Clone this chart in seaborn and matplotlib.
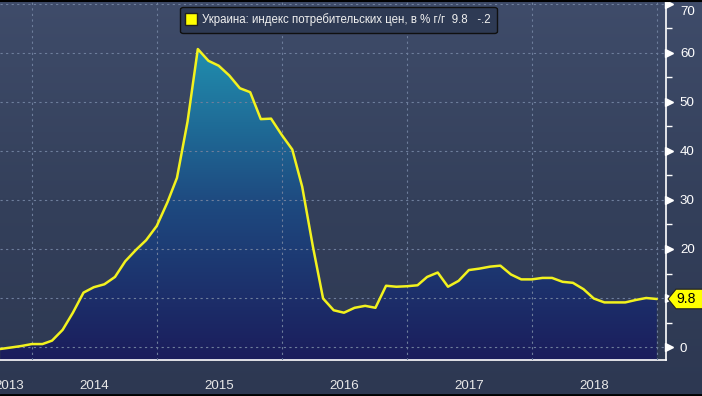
import numpy as np
import pandas as pd
import seaborn as sns
import matplotlib.pyplot as plt
import matplotlib.dates as mdates
import matplotlib.ticker as mtick
import matplotlib.transforms as mtrans
from matplotlib import font_manager
from matplotlib.colors import LinearSegmentedColormap
from matplotlib.lines import Line2D
from matplotlib.patches import Polygon

sns.set_style("dark")
# narrow font like the terminal's; plain Liberation Sans if the narrow cut is missing
installed = {f.name for f in font_manager.fontManager.ttflist}
if 'Liberation Sans Narrow' in installed:
    plt.rcParams['font.family'] = ['Liberation Sans Narrow', 'DejaVu Sans']
    fs = 1.0
else:
    plt.rcParams['font.family'] = ['Liberation Sans', 'DejaVu Sans']
    fs = 0.84

# Ukraine CPI, % y/y, monthly (Sep 2013 - Dec 2018), points at month end
dates = pd.date_range('2013-10-01', periods=64, freq='MS') - pd.Timedelta(days=1)
cpi = [-0.4, -0.1, 0.2, 0.6,
       0.6, 1.3, 3.5, 7.0, 11.1, 12.2, 12.8, 14.3, 17.5, 19.8, 21.8, 24.7,
       29.5, 34.5, 46.0, 60.8, 58.4, 57.4, 55.4, 52.8, 52.0, 46.5, 46.6, 43.3,
       40.3, 32.7, 20.6, 9.9, 7.5, 7.0, 8.0, 8.4, 8.0, 12.5, 12.3, 12.4,
       12.6, 14.3, 15.2, 12.3, 13.5, 15.7, 16.0, 16.4, 16.6, 14.8, 13.8, 13.8,
       14.1, 14.1, 13.3, 13.1, 11.8, 9.9, 9.1, 9.1, 9.1, 9.6, 10.0, 9.8]
series_name = 'Украина: индекс потребительских цен, в % г/г'
last_value = cpi[-1]
last_change = '-.2'
y_ticks = [0, 10, 20, 30, 40, 50, 60, 70]
y_tick_labels = ['0', '', '20', '30', '40', '50', '60', '70']  # 10 sits under the value tag
year_labels = ['2013', '2014', '2015', '2016', '2017', '2018']
year_label_pos = ['2013-10-25', '2014-07-01', '2015-07-01', '2016-07-01', '2017-07-01', '2018-07-01']

df = pd.DataFrame({'date': dates, 'cpi': cpi})

W, H = 702, 396
fig = plt.figure(figsize=(W / 100, H / 100), dpi=100)

# background gradient over the whole figure
bg = fig.add_axes([0, 0, 1, 1])
bg_cmap = LinearSegmentedColormap.from_list('bg', ['#2d3852', '#34405b', '#3f4c6a'])
bg.imshow(np.linspace(0, 1, 256).reshape(-1, 1), aspect='auto', cmap=bg_cmap,
          origin='lower', extent=[0, 1, 0, 1])
bg.axis('off')

ax = fig.add_axes([0, (H - 360) / H, 666 / W, (360 - 2) / H])
ax.patch.set_alpha(0)

x0, x1 = mdates.date2num(pd.Timestamp('2013-09-29')), mdates.date2num(pd.Timestamp('2019-01-27'))
y0, y1 = -2.65, 70.4

# gradient area under the line
fill_cmap = LinearSegmentedColormap.from_list('fill', ['#1b1d5c', '#1e4a80', '#2090b0'])
im = ax.imshow(np.linspace(0, 1, 256).reshape(-1, 1), aspect='auto', cmap=fill_cmap,
               origin='lower', extent=[x0, x1, y0, 62], zorder=1)
poly = ax.fill_between(df['date'], df['cpi'], y0, color='none', lw=0)
im.set_clip_path(poly.get_paths()[0], ax.transData)

sns.lineplot(data=df, x='date', y='cpi', color='#f2f21e', lw=1.8, ax=ax, zorder=4)

ax.set_xlim(x0, x1)
ax.set_ylim(y0, y1)
ax.set_xlabel('')
ax.set_ylabel('')

# grid above the fill
ax.set_axisbelow(False)
ax.grid(True, which='major', color='#6e7e9c', linestyle=(0, (2, 3)), linewidth=0.8, zorder=2)

# x axis: year boundaries long gray ticks, quarters short white ticks
ax.xaxis.set_major_locator(mdates.YearLocator())
ax.xaxis.set_major_formatter(mtick.NullFormatter())
ax.xaxis.set_minor_locator(mdates.MonthLocator(bymonth=[4, 7, 10]))
ax.xaxis.set_minor_formatter(mtick.NullFormatter())
ax.tick_params(axis='x', which='major', direction='out', length=27, width=1, color='#9aa3b6')
ax.tick_params(axis='x', which='minor', direction='out', length=3, width=1, color='white')
xtrans = mtrans.blended_transform_factory(ax.transData, ax.transAxes)
for lab, pos in zip(year_labels, year_label_pos):
    ax.text(mdates.date2num(pd.Timestamp(pos)), -26 / 358, lab, transform=xtrans,
            ha='center', va='center', fontsize=11.5 * fs, color='#e8e8e8', clip_on=False)

# y axis on the right
ax.yaxis.tick_right()
ax.set_yticks(y_ticks)
ax.set_yticklabels(y_tick_labels)
ax.yaxis.set_minor_locator(mtick.FixedLocator([5, 15, 25, 35, 45, 55, 65]))
ax.tick_params(axis='y', which='major', length=0, pad=10, labelcolor='white', labelsize=11.5 * fs)
ax.tick_params(axis='y', which='minor', direction='out', length=4, width=1, color='white')
# top label pushed down a little so it stays inside the picture
top_lab = ax.get_yticklabels()[-1]
top_lab.set_transform(top_lab.get_transform() +
                      mtrans.ScaledTranslation(0, -5 / 72, fig.dpi_scale_trans))
trans = mtrans.blended_transform_factory(ax.transAxes, ax.transData)
ax.plot([1.005] * len(y_ticks), y_ticks, ls='none', marker='>', ms=6, color='white',
        transform=trans, clip_on=False, zorder=5)

for s in ['top', 'left']:
    ax.spines[s].set_visible(False)
for s in ['bottom', 'right']:
    ax.spines[s].set_color('white')
    ax.spines[s].set_linewidth(1.2)

# last value tag
hh = 2.0
tag = Polygon([(1.003, last_value), (1.015, last_value + hh), (1.07, last_value + hh),
               (1.07, last_value - hh), (1.015, last_value - hh)], closed=True,
              facecolor='#ffff00', edgecolor='#202020', lw=0.8, transform=trans,
              clip_on=False, zorder=6)
ax.add_patch(tag)
ax.text(1.03, last_value, f'{last_value:.1f}', transform=trans, ha='center', va='center',
        fontsize=12 * fs, color='black', zorder=7)

# legend
handle = Line2D([], [], ls='none', marker='s', ms=9, markerfacecolor='#ffff00',
                markeredgecolor='#202020')
leg = ax.legend([handle], [f'{series_name}  {last_value:.1f}   {last_change}'],
                loc='center', bbox_to_anchor=(338.5 / W, 1 - 20 / H),
                bbox_transform=fig.transFigure, frameon=True, fancybox=True,
                facecolor='#2e3a54', edgecolor='#101010', framealpha=1,
                fontsize=9.9 * fs, handlelength=0.8, handletextpad=0.5, borderpad=0.55)
for t in leg.get_texts():
    t.set_color('#f0f0f0')

# dark frame lines at top and bottom
fig.add_artist(Line2D([0, 1], [1 - 0.5 / H, 1 - 0.5 / H], color='black', lw=1.5, transform=fig.transFigure))
fig.add_artist(Line2D([0, 1], [1.5 / H, 1.5 / H], color='black', lw=2, transform=fig.transFigure))

fig.savefig('out.png', dpi=100)
